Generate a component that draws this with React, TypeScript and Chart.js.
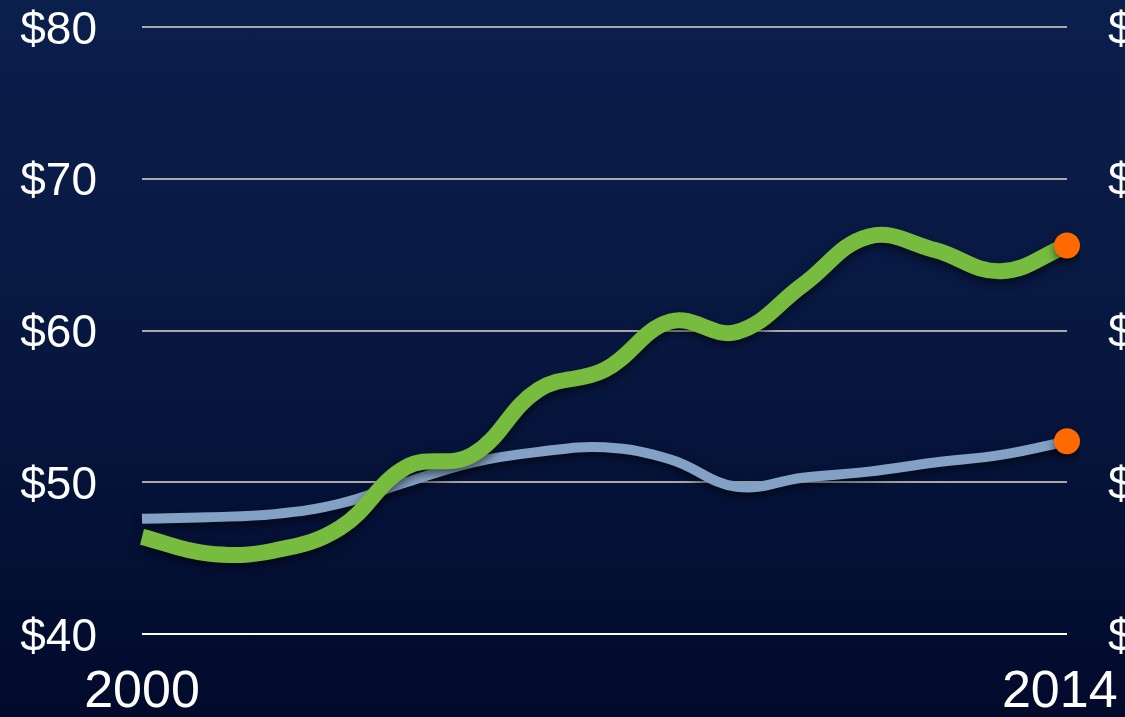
import React, { useEffect, useRef } from "react";
import { Chart, registerables } from "chart.js";

Chart.register(...registerables);

const years = ["2000","2001","2002","2003","2004","2005","2006","2007","2008","2009","2010","2011","2012","2013","2014"];
const greenSeries = [46.4, 45.3, 45.5, 47.0, 51.0, 51.8, 56.1, 57.4, 60.6, 59.9, 63.0, 66.2, 65.3, 63.9, 65.6];
const blueSeries = [47.6, 47.7, 47.9, 48.6, 50.0, 51.3, 52.0, 52.3, 51.5, 49.7, 50.3, 50.7, 51.3, 51.8, 52.7];
const yTicks = [40, 50, 60, 70, 80];

const FONT = "'Liberation Sans', Arial, Helvetica, sans-serif";

export default function App() {
  const ref = useRef<HTMLCanvasElement | null>(null);

  useEffect(() => {
    document.body.style.margin = "0";
    const canvas = ref.current;
    if (!canvas) return;
    const endRadius = (n: number, r: number) => years.map((_, i) => (i === n - 1 ? r : 0));

    const shadowPlugin = {
      id: "lineShadow",
      beforeDatasetDraw(chart: any) {
        const ctx = chart.ctx;
        ctx.save();
        ctx.shadowColor = "rgba(0,0,0,0.55)";
        ctx.shadowBlur = 8;
        ctx.shadowOffsetY = 4;
      },
      afterDatasetDraw(chart: any) {
        chart.ctx.restore();
      },
    };

    const fixVertical = (w: number) => (s: any) => {
      s.width = w;
      s.paddingTop = 27;
      s.paddingBottom = 0;
    };

    const chart = new Chart(canvas, {
      type: "line",
      data: {
        labels: years,
        datasets: [
          {
            label: "Green",
            data: greenSeries,
            borderColor: "#77bb3f",
            borderWidth: 16,
            tension: 0.4,
            pointRadius: endRadius(years.length, 13),
            pointHoverRadius: 0,
            pointBackgroundColor: "#ff6a00",
            pointBorderWidth: 0,
            borderCapStyle: "butt",
            order: 1,
            yAxisID: "y",
          },
          {
            label: "Blue",
            data: blueSeries,
            borderColor: "#83a1c4",
            borderWidth: 10,
            tension: 0.4,
            pointRadius: endRadius(years.length, 13),
            pointHoverRadius: 0,
            pointBackgroundColor: "#ff6a00",
            pointBorderWidth: 0,
            order: 2,
            yAxisID: "y",
          },
        ],
      },
      options: {
        animation: false,
        responsive: false,
        maintainAspectRatio: false,
        layout: { padding: 0 },
        plugins: { legend: { display: false }, tooltip: { enabled: false } },
        scales: {
          x: {
            type: "category",
            offset: false,
            grid: { display: false, drawTicks: false },
            border: { display: false },
            ticks: {
              color: "#ffffff",
              font: { family: FONT, size: 52 },
              padding: 27,
              maxRotation: 0,
              autoSkip: false,
              callback: (_v: any, i: number) =>
                i === 0 ? years[i] : i === years.length - 1 ? years[i] + " " : "",
            },
            afterFit: (s: any) => {
              s.height = 83;
              s.paddingLeft = 0;
              s.paddingRight = 0;
            },
          },
          y: {
            position: "left",
            min: yTicks[0],
            max: yTicks[yTicks.length - 1],
            afterBuildTicks: (s: any) => { s.ticks = yTicks.map((v) => ({ value: v })); },
            grid: {
              drawTicks: false,
              lineWidth: 2,
              color: (c: any) => (c.tick && c.tick.value === 40 ? "#ffffff" : "#a9a9a9"),
            },
            border: { display: false },
            ticks: {
              color: "#ffffff",
              font: { family: FONT, size: 46 },
              padding: 45,
              labelOffset: 4,
              callback: (v: any) => "$" + v,
            },
            afterFit: fixVertical(142),
          },
          y2: {
            position: "right",
            min: yTicks[0],
            max: yTicks[yTicks.length - 1],
            afterBuildTicks: (s: any) => { s.ticks = yTicks.map((v) => ({ value: v })); },
            grid: { display: false, drawTicks: false },
            border: { display: false },
            ticks: {
              color: "#ffffff",
              font: { family: FONT, size: 46 },
              padding: 41,
              labelOffset: 4,
              callback: (v: any) => "$" + v,
            },
            afterFit: fixVertical(58),
          },
        },
      },
      plugins: [shadowPlugin],
    } as any);

    return () => chart.destroy();
  }, []);

  return (
    <div
      style={{
        position: "relative",
        width: 1125,
        height: 717,
        overflow: "hidden",
        background: "linear-gradient(180deg, #0b1f4d 0%, #07173f 50%, #020a2c 100%)",
      }}
    >
      <canvas ref={ref} width={1125} height={717} style={{ display: "block" }} />
    </div>
  );
}
